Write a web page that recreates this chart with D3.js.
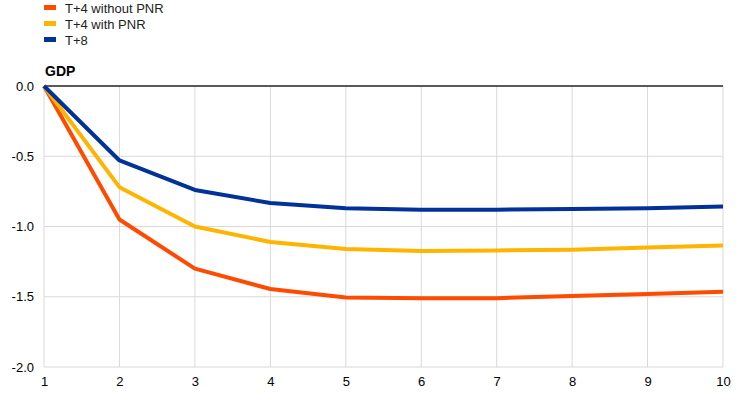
<!DOCTYPE html>
<html>
<head>
<meta charset="utf-8">
<script src="https://cdn.jsdelivr.net/npm/d3@7"></script>
<style>
  body { margin: 0; background: #fff; }
  text { font-family: "Liberation Sans", Arial, sans-serif; }
</style>
</head>
<body>
<div id="chart"></div>
<script>
// chart data
var quarters = [1, 2, 3, 4, 5, 6, 7, 8, 9, 10];
var seriesNames = ["T+4 without PNR", "T+4 with PNR", "T+8"];
var seriesColors = ["#ff4b00", "#ffb400", "#003299"];
var withoutPNR = [0, -0.95, -1.30, -1.445, -1.505, -1.51, -1.51, -1.495, -1.48, -1.465];
var withPNR = [0, -0.72, -1.00, -1.11, -1.16, -1.175, -1.17, -1.165, -1.15, -1.135];
var tPlus8 = [0, -0.53, -0.74, -0.833, -0.87, -0.88, -0.88, -0.875, -0.87, -0.858];
var yTicks = [0, -0.5, -1.0, -1.5, -2.0];

var width = 744, height = 394;
var margin = {top: 86, right: 21, bottom: 27, left: 44};

var svg = d3.select("#chart").append("svg")
  .attr("width", width)
  .attr("height", height);

var x = d3.scaleLinear().domain([1, 10]).range([margin.left, width - margin.right]);
var y = d3.scaleLinear().domain([0, -2]).range([margin.top, height - margin.bottom]);

//vertical grid
svg.append("g").selectAll("line")
  .data(quarters)
  .enter().append("line")
  .attr("x1", function(d) { return x(d); })
  .attr("x2", function(d) { return x(d); })
  .attr("y1", y(0))
  .attr("y2", y(-2))
  .style("stroke", "#d9d9d9")
  .style("stroke-width", 1);

//horizontal grid
svg.append("g").selectAll("line")
  .data(yTicks.filter(function(d) { return d != 0; }))
  .enter().append("line")
  .attr("x1", x(1))
  .attr("x2", x(10))
  .attr("y1", function(d) { return y(d); })
  .attr("y2", function(d) { return y(d); })
  .style("stroke", "#d9d9d9")
  .style("stroke-width", 1);

//zero line
svg.append("line")
  .attr("x1", x(1))
  .attr("x2", x(10))
  .attr("y1", y(0))
  .attr("y2", y(0))
  .style("stroke", "#595959")
  .style("stroke-width", 2);

//y axis labels (plain hyphen, like the original)
var yAxis = d3.axisLeft(y).tickValues(yTicks).tickSize(0).tickPadding(10)
  .tickFormat(function(d) { return d.toFixed(1); });
svg.append("g")
  .attr("transform", "translate(" + x(1) + ",0)")
  .call(yAxis)
  .call(function(g) { g.select(".domain").remove(); })
  .selectAll("text")
  .style("font-size", "13px")
  .style("fill", "#000")
  .style("font-family", "'Liberation Sans', Arial, sans-serif");

//x axis labels
var xAxis = d3.axisBottom(x).tickValues(quarters).tickSize(0).tickPadding(10)
  .tickFormat(d3.format("d"));
svg.append("g")
  .attr("transform", "translate(0," + y(-2) + ")")
  .call(xAxis)
  .call(function(g) { g.select(".domain").remove(); })
  .selectAll("text")
  .style("font-size", "13px")
  .style("fill", "#000")
  .style("font-family", "'Liberation Sans', Arial, sans-serif");

//title
svg.append("text")
  .attr("x", 45)
  .attr("y", 76)
  .style("font-size", "14px")
  .style("font-weight", "bold")
  .text("GDP");

//lines
var line = d3.line()
  .x(function(d, i) { return x(quarters[i]); })
  .y(function(d) { return y(d); });

var allSeries = [withoutPNR, withPNR, tPlus8];
svg.append("g").selectAll("path")
  .data(allSeries)
  .enter().append("path")
  .attr("d", line)
  .style("fill", "none")
  .style("stroke", function(d, i) { return seriesColors[i]; })
  .style("stroke-width", 4)
  .style("stroke-linejoin", "round");

//legend
var legend = svg.append("g").selectAll("g")
  .data(seriesNames)
  .enter().append("g")
  .attr("transform", function(d, i) { return "translate(44," + (8 + i * 16) + ")"; });
legend.append("rect")
  .attr("x", 0)
  .attr("y", -3)
  .attr("width", 12)
  .attr("height", 5)
  .style("fill", function(d, i) { return seriesColors[i]; });
legend.append("text")
  .attr("x", 21)
  .attr("y", 5)
  .style("font-size", "13px")
  .style("fill", "#222")
  .text(function(d) { return d; });
</script>
</body>
</html>
